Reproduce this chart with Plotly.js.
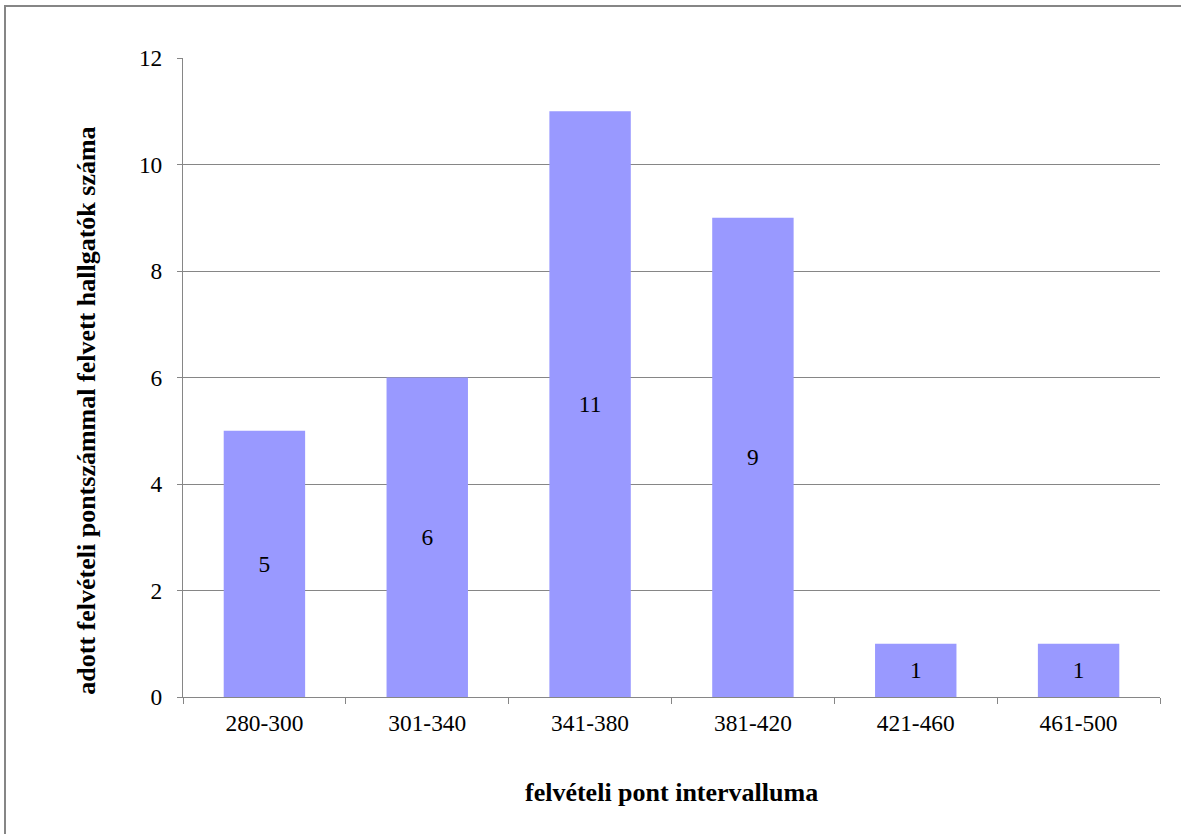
<!DOCTYPE html>
<html>
<head>
<meta charset="utf-8">
<script src="https://cdn.plot.ly/plotly-3.0.1.min.js"></script>
<style>
html,body{margin:0;padding:0;background:#fff;}
#chart{width:1181px;height:834px;}
</style>
</head>
<body>
<div id="chart"></div>
<script>
const categories = ["280-300", "301-340", "341-380", "381-420", "421-460", "461-500"];
const counts = [5, 6, 11, 9, 1, 1];
const yTickValues = [0, 2, 4, 6, 8, 10, 12];
const xTitle = "felvételi pont intervalluma";
const yTitle = "adott felvételi pontszámmal felvett hallgatók száma";

const font = "Liberation Serif, Times New Roman, serif";
const tickSize = 23.4;
const titleSize = 26;
const trace = {
  type: "bar",
  x: categories,
  y: counts,
  text: counts.map(String),
  textposition: "inside",
  insidetextanchor: "middle",
  textangle: 0,
  constraintext: "none",
  textfont: {family: font, size: tickSize, color: "#000"},
  marker: {color: "#9999FF", line: {width: 0}},
  hoverinfo: "x+y"
};
const layout = {
  width: 1181, height: 834,
  margin: {l: 183, r: 21, t: 58, b: 137},
  paper_bgcolor: "#fff", plot_bgcolor: "#fff",
  bargap: 0.5,
  showlegend: false,
  font: {family: font, size: tickSize, color: "#000"},
  xaxis: {
    type: "category",
    tickson: "boundaries",
    ticks: "outside", ticklen: 6, tickcolor: "#868686", tickwidth: 1,
    ticklabelstandoff: 5,
    showline: true, linecolor: "#868686", linewidth: 1,
    showgrid: false,
    tickfont: {family: font, size: tickSize, color: "#000"},
    fixedrange: true
  },
  yaxis: {
    range: [0, 12.001],
    tickvals: yTickValues,
    ticks: "outside", ticklen: 5, tickcolor: "#868686", tickwidth: 1,
    ticklabelstandoff: 10,
    showline: true, linecolor: "#868686", linewidth: 1,
    showgrid: true, gridcolor: "#868686", gridwidth: 1,
    zeroline: false,
    tickfont: {family: font, size: tickSize, color: "#000"},
    fixedrange: true
  },
  annotations: [
    {text: "<b>" + xTitle + "</b>", xref: "paper", yref: "paper", x: 0.5, y: -0.149,
     xanchor: "center", yanchor: "middle", showarrow: false,
     font: {family: font, size: titleSize, color: "#000"}},
    {text: "<b>" + yTitle + "</b>", xref: "paper", yref: "paper", x: -0.0983, y: 0.448,
     xanchor: "center", yanchor: "middle", textangle: -90, showarrow: false,
     font: {family: font, size: titleSize, color: "#000"}}
  ],
  shapes: [
    {type: "rect", xref: "paper", yref: "paper",
     x0: -178 / 977, x1: 1.05, y0: -0.3, y1: 1 + 52 / 639,
     line: {color: "#868686", width: 2}, fillcolor: "rgba(0,0,0,0)", layer: "below"}
  ]
};
Plotly.newPlot("chart", [trace], layout, {displayModeBar: false});
</script>
</body>
</html>
